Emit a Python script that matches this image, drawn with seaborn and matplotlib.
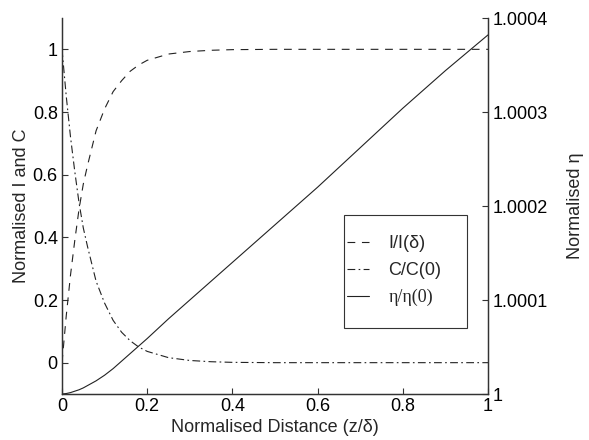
import matplotlib
matplotlib.use("Agg")
import matplotlib.pyplot as plt
import seaborn as sns
import numpy as np
from matplotlib.lines import Line2D
from matplotlib.patches import Rectangle

# ---- data ----
z = [0, 0.01, 0.02, 0.03, 0.04, 0.05, 0.06, 0.08, 0.10, 0.12, 0.14, 0.16, 0.18,
     0.20, 0.25, 0.30, 0.35, 0.40, 0.50, 0.60, 0.70, 0.80, 0.90, 1.00]
I_norm = [0, 0.15, 0.28, 0.39, 0.49, 0.57, 0.63, 0.74, 0.81, 0.865, 0.90, 0.93, 0.95,
          0.965, 0.985, 0.993, 0.997, 0.999, 1, 1, 1, 1, 1, 1]
C_norm = [1, 0.85, 0.72, 0.61, 0.51, 0.43, 0.37, 0.26, 0.19, 0.135, 0.097, 0.07, 0.05,
          0.036, 0.016, 0.007, 0.003, 0.001, 0, 0, 0, 0, 0, 0]
eta_norm = [1.0, 1.0000005, 1.0000015, 1.000003, 1.0000045, 1.0000065, 1.000009,
            1.000014, 1.00002, 1.000027, 1.000035, 1.000043, 1.000051, 1.000059,
            1.00008, 1.0001, 1.00012, 1.00014, 1.00018, 1.00022, 1.000262,
            1.000304, 1.000344, 1.000382]

x_ticks = [0, 0.2, 0.4, 0.6, 0.8, 1]
x_labels = ["0", "0.2", "0.4", "0.6", "0.8", "1"]
left_ticks = [0, 0.2, 0.4, 0.6, 0.8, 1]
left_labels = ["0", "0.2", "0.4", "0.6", "0.8", "1"]
right_ticks = [1.0, 1.0001, 1.0002, 1.0003, 1.0004]
right_labels = ["1", "1.0001", "1.0002", "1.0003", "1.0004"]

sns.set_theme(style="ticks")
plt.rcParams["font.family"] = ["Liberation Sans", "DejaVu Sans"]
plt.rcParams["xtick.direction"] = "in"
plt.rcParams["ytick.direction"] = "in"

FS = 13
col = "#222222"

fig = plt.figure(figsize=(5.89, 4.40), dpi=100)
ax = fig.add_axes([62/589, 46/440, 426/589, 376/440])
ax2 = ax.twinx()

sns.lineplot(x=z, y=I_norm, ax=ax, color=col, linewidth=0.8, estimator=None, sort=False)
ax.lines[-1].set_dashes([7, 6])
sns.lineplot(x=z, y=C_norm, ax=ax, color=col, linewidth=0.8, estimator=None, sort=False)
ax.lines[-1].set_dashes([7, 3, 1.5, 3])
sns.lineplot(x=z, y=eta_norm, ax=ax2, color=col, linewidth=0.8, estimator=None, sort=False)

ax.set_xlim(0, 1)
ax.set_ylim(-0.1, 1.1)
ax2.set_ylim(1.0, 1.0004)

ax.set_xticks(x_ticks)
ax.set_xticklabels(x_labels, fontsize=FS)
ax.set_yticks(left_ticks)
ax.set_yticklabels(left_labels, fontsize=FS)
ax2.set_yticks(right_ticks)
ax2.set_yticklabels(right_labels, fontsize=FS)

for a in (ax, ax2):
    a.spines["top"].set_visible(False)
    for s in a.spines.values():
        s.set_color("#333333")
        s.set_linewidth(0.9)
    a.tick_params(length=4, width=0.8, color="#333333", pad=3, labelcolor="black")

ax.set_xlabel("Normalised Distance (z/δ)", fontsize=FS, labelpad=3)
ax.set_ylabel("Normalised I and C", fontsize=FS, labelpad=2)
ax2.set_ylabel("Normalised η", fontsize=FS, labelpad=14)
ax2.grid(False)
ax.grid(False)

# legend box
ax2.add_patch(Rectangle(((344-62)/426, (394-328)/376), 123/426, 113/376,
                        transform=ax2.transAxes, fill=True, facecolor="white",
                        edgecolor="#333333", linewidth=0.8, zorder=4))

handles = [Line2D([], [], color=col, lw=0.8, dashes=[7, 6]),
           Line2D([], [], color=col, lw=0.8, dashes=[7, 3, 1.5, 3]),
           Line2D([], [], color=col, lw=0.8)]
labels = ["I/I(δ)", "C/C(0)", "η/η(0)"]
leg = ax2.legend(handles, labels, loc="upper left",
                 bbox_to_anchor=((347-62)/426, (394-235)/376),
                 fontsize=FS, frameon=False, handlelength=1.2, handletextpad=1.1,
                 labelspacing=0.55, borderpad=0, borderaxespad=0)
leg.set_zorder(5)
leg.get_texts()[2].set_fontfamily(["Liberation Serif", "DejaVu Serif"])

fig.savefig("out.png", dpi=100)
